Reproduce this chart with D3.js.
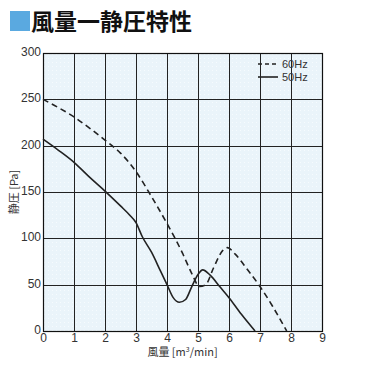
<!DOCTYPE html>
<html>
<head>
<meta charset="utf-8">
<script src="https://cdn.jsdelivr.net/npm/d3@7"></script>
<style>
  body { margin: 0; background: #fff; }
  svg text { font-family: "Liberation Sans", Arial, sans-serif; }
</style>
</head>
<body>
<div id="chart"></div>
<script>
// air flow [m3/min] vs static pressure [Pa]
var xTicks = [0, 1, 2, 3, 4, 5, 6, 7, 8, 9];
var yTicks = [0, 50, 100, 150, 200, 250, 300];

var flow60 = [0, 0.5, 1, 1.5, 2, 2.5, 3, 3.5, 4, 4.5, 4.8, 5.05, 5.25, 5.5, 5.8, 5.95, 6.2, 6.6, 7, 7.4, 7.86];
var pres60 = [250, 241, 231, 219, 206, 192, 172, 145, 116, 84, 62, 48, 50, 68, 87, 90, 83, 66, 48, 27, 0];

var flow50 = [0, 0.5, 1, 1.5, 2, 2.5, 2.8, 3, 3.2, 3.5, 3.8, 4, 4.2, 4.4, 4.6, 4.8, 5, 5.15, 5.4, 5.7, 6, 6.4, 6.84];
var pres50 = [207, 195, 182, 166, 151, 135, 125, 117, 102, 85, 64, 50, 36, 31, 34, 48, 61, 66, 60, 48, 36, 18, 0];

var seriesNames = ['60Hz', '50Hz'];

var margin = { top: 53, left: 43 }, width = 279, height = 278;

var svg = d3.select('#chart').append('svg')
  .attr('width', 370)
  .attr('height', 380);

// title
svg.append('rect').attr('x', 10).attr('y', 11).attr('width', 20).attr('height', 20).attr('fill', '#5aa9e0');
svg.append('text')
  .attr('x', 31).attr('y', 30)
  .style('font-family', '"Noto Sans CJK JP", sans-serif')
  .style('font-weight', 'bold')
  .style('font-size', '23px')
  .attr('fill', '#111')
  .text('風量一静圧特性');

var defs = svg.append('defs');
var pat = defs.append('pattern').attr('id', 'dots').attr('width', 4).attr('height', 4).attr('patternUnits', 'userSpaceOnUse');
pat.append('rect').attr('width', 4).attr('height', 4).attr('fill', '#eaf4fa');
pat.append('rect').attr('x', 1).attr('y', 1).attr('width', 1).attr('height', 1).attr('fill', '#f6fbfe');

var x = d3.scaleLinear().domain([0, 9]).range([0, width]);
var y = d3.scaleLinear().domain([0, 300]).range([height, 0]);

var g = svg.append('g').attr('transform', 'translate(' + margin.left + ',' + margin.top + ')');

g.append('rect').attr('width', width).attr('height', height).attr('fill', 'url(#dots)');

// grid
g.append('g').selectAll('line').data(xTicks).enter().append('line')
  .attr('x1', function(d) { return Math.round(x(d)) + 0.5; })
  .attr('x2', function(d) { return Math.round(x(d)) + 0.5; })
  .attr('y1', 0).attr('y2', height)
  .attr('stroke', '#222').attr('stroke-width', 1);
g.append('g').selectAll('line').data(yTicks).enter().append('line')
  .attr('y1', function(d) { return Math.round(y(d)) + 0.5; })
  .attr('y2', function(d) { return Math.round(y(d)) + 0.5; })
  .attr('x1', 0).attr('x2', width)
  .attr('stroke', '#222').attr('stroke-width', 1);

g.append('rect').attr('x', 0.5).attr('y', 0.5).attr('width', width).attr('height', height)
  .attr('fill', 'none').attr('stroke', '#111').attr('stroke-width', 1.2);

// axes
var xAxis = d3.axisBottom(x).tickValues(xTicks).tickSize(0).tickPadding(2);
var yAxis = d3.axisLeft(y).tickValues(yTicks).tickSize(0).tickPadding(2);

var xg = g.append('g').attr('transform', 'translate(0,' + height + ')').call(xAxis);
var yg = g.append('g').call(yAxis);
[xg, yg].forEach(function(a) {
  a.select('.domain').remove();
  a.selectAll('text').attr('fill', '#333').style('font-size', '12px')
    .style('font-family', '"Liberation Sans Narrow", "Liberation Sans", sans-serif');
});
yg.selectAll('text').attr('dy', '0.2em');

// axis titles
svg.append('text')
  .attr('x', margin.left + width / 2).attr('y', 356)
  .attr('text-anchor', 'middle')
  .style('font-size', '11px')
  .style('font-family', '"Noto Sans CJK JP", sans-serif')
  .attr('fill', '#333')
  .html('風量 [m<tspan dy="-4" font-size="7">3</tspan><tspan dy="4">/min]</tspan>');

svg.append('text')
  .attr('transform', 'translate(18,192) rotate(-90)')
  .attr('text-anchor', 'middle')
  .style('font-size', '11px')
  .style('font-family', '"Noto Sans CJK JP", sans-serif')
  .attr('fill', '#333')
  .text('静圧 [Pa]');

// curves
var line = d3.line()
  .x(function(d) { return x(d[0]); })
  .y(function(d) { return y(d[1]); })
  .curve(d3.curveMonotoneX);

g.append('path')
  .datum(d3.zip(flow60, pres60))
  .attr('d', line)
  .attr('fill', 'none').attr('stroke', '#222').attr('stroke-width', 1.6)
  .attr('stroke-dasharray', '6,4');

g.append('path')
  .datum(d3.zip(flow50, pres50))
  .attr('d', line)
  .attr('fill', 'none').attr('stroke', '#222').attr('stroke-width', 1.6);

// legend
var legend = svg.append('g').attr('transform', 'translate(258,68)');
seriesNames.forEach(function(name, i) {
  legend.append('line')
    .attr('x1', 0).attr('x2', 20)
    .attr('y1', i * 13 - 4).attr('y2', i * 13 - 4)
    .attr('stroke', '#222').attr('stroke-width', 1.6)
    .attr('stroke-dasharray', i === 0 ? '4,3' : null);
  legend.append('text')
    .attr('x', 24).attr('y', i * 13)
    .style('font-size', '11px')
    .style('font-family', '"Liberation Sans Narrow", "Liberation Sans", sans-serif')
    .attr('fill', '#333')
    .text(name);
});
</script>
</body>
</html>
